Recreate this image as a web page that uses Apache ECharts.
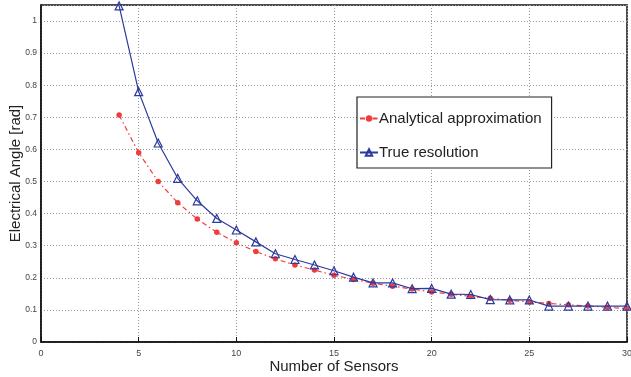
<!DOCTYPE html>
<html><head><meta charset="utf-8">
<script src="https://cdn.jsdelivr.net/npm/echarts@6/dist/echarts.min.js"></script>
<style>html,body{margin:0;padding:0;background:#fff}#c{width:631px;height:377px}</style>
</head><body><div id="c"></div>
<script>
const sensors = [4,5,6,7,8,9,10,11,12,13,14,15,16,17,18,19,20,21,22,23,24,25,26,27,28,29,30];
const analytical = [0.707,0.59,0.50,0.434,0.383,0.342,0.309,0.282,0.259,0.240,0.224,0.208,0.195,0.183,0.174,0.165,0.156,0.149,0.142,0.136,0.130,0.125,0.120,0.116,0.112,0.108,0.104];
const trueRes = [1.047,0.78,0.62,0.51,0.44,0.385,0.349,0.312,0.275,0.257,0.240,0.222,0.202,0.184,0.184,0.166,0.167,0.149,0.148,0.132,0.131,0.131,0.112,0.112,0.112,0.112,0.112];
const seriesNames = ['Analytical approximation','True resolution'];
const xTitle = 'Number of Sensors';
const yTitle = 'Electrical Angle [rad]';

const chart = echarts.init(document.getElementById('c'));
const font = 'Liberation Sans, Arial, Helvetica, sans-serif';
chart.setOption({
  animation: false,
  textStyle: {fontFamily: font},
  grid: {left: 41, right: 4, top: 5, bottom: 35, containLabel: false, outerBoundsMode: 'none',
    show: true, borderColor: '#111', borderWidth: 1.5, backgroundColor: '#fff'},
  legend: {
    orient: 'vertical', left: 357, top: 97, width: 194, height: 75,
    padding: [14, 10, 8, 2], itemGap: 19,
    backgroundColor: '#fff', borderColor: '#222', borderWidth: 1.2, borderRadius: 0,
    itemWidth: 18, itemHeight: 8,
    textStyle: {fontSize: 15, color: '#222', fontFamily: font, padding: [0,0,0,-4]},
    data: seriesNames
  },
  xAxis: {
    type: 'value', min: 0, max: 30, interval: 5,
    name: xTitle, nameLocation: 'middle', nameGap: 17, nameMoveOverlap: false,
    nameTextStyle: {fontSize: 15, color: '#222'},
    axisLine: {show: true, lineStyle: {color: '#111', width: 1.5}},
    axisTick: {show: true, inside: true, length: 5, lineStyle: {color: '#111'}},
    axisLabel: {fontSize: 9, color: '#444', margin: 7},
    splitLine: {show: true, lineStyle: {color: '#999', type: [1, 2], width: 1}}
  },
  yAxis: {
    type: 'value', min: 0, max: 1.05, interval: 0.1,
    name: yTitle, nameLocation: 'middle', nameGap: 18, nameMoveOverlap: false,
    nameTextStyle: {fontSize: 15, color: '#222'},
    axisLine: {show: true, lineStyle: {color: '#111', width: 1.5}},
    axisTick: {show: false},
    axisLabel: {fontSize: 8.5, color: '#444', margin: 4, showMaxLabel: false,
      formatter: v => (Math.round(v*10)/10).toString()},
    splitLine: {show: true, lineStyle: {color: '#999', type: [1, 2], width: 1}}
  },
  series: [
    {
      name: seriesNames[0], type: 'line',
      data: sensors.map((s, i) => [s, analytical[i]]),
      symbol: 'circle', symbolSize: 5.5,
      itemStyle: {color: '#f03c3c'},
      lineStyle: {color: '#f03c3c', width: 1.2, type: [5, 3, 1.5, 3]},
      z: 2
    },
    {
      name: seriesNames[1], type: 'line',
      data: sensors.map((s, i) => [s, trueRes[i]]),
      symbol: 'triangle', symbolSize: 8,
      itemStyle: {color: 'rgba(255,255,255,0)', borderColor: '#2b3a9e', borderWidth: 1.2},
      lineStyle: {color: '#2b3a9e', width: 1.2},
      z: 3
    }
  ]
});
</script></body></html>
